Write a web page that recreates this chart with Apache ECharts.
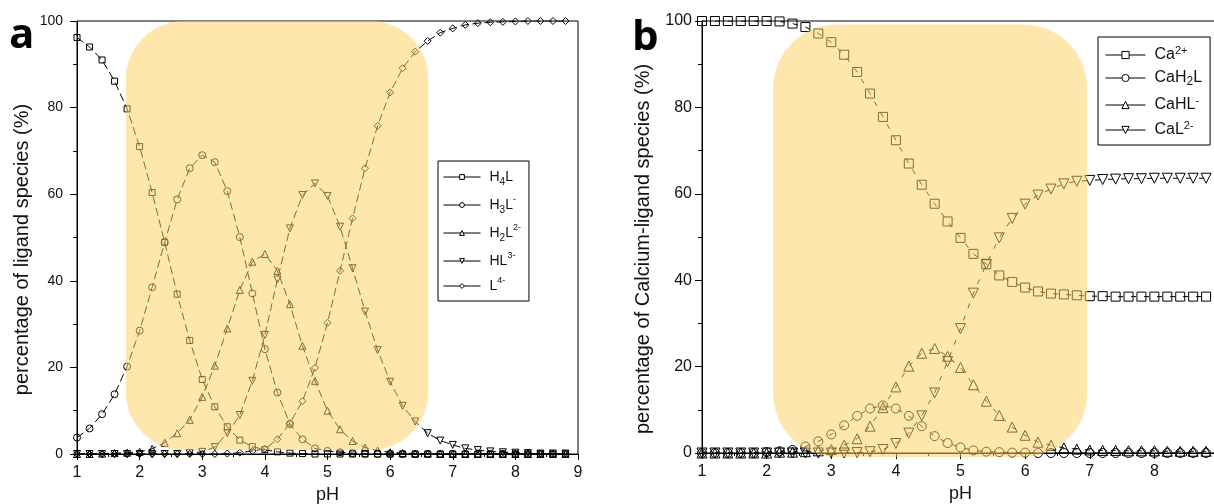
<!DOCTYPE html>
<html>
<head>
<meta charset="utf-8">
<title>Ligand species</title>
<script src="https://cdn.jsdelivr.net/npm/echarts@6/dist/echarts.min.js"></script>
<style>
  html, body { margin: 0; padding: 0; background: #fff; }
  #chart { width: 1214px; height: 504px; }
</style>
</head>
<body>
<div id="chart"></div>
<script>
    // pH grid shared by both panels
    var pH = [1.0, 1.2, 1.4, 1.6, 1.8, 2.0, 2.2, 2.4, 2.6, 2.8,
              3.0, 3.2, 3.4, 3.6, 3.8, 4.0, 4.2, 4.4, 4.6, 4.8,
              5.0, 5.2, 5.4, 5.6, 5.8, 6.0, 6.2, 6.4, 6.6, 6.8,
              7.0, 7.2, 7.4, 7.6, 7.8, 8.0, 8.2, 8.4, 8.6, 8.8];

    // panel a: ligand species (%)
    var namesA = ['H4L', 'H3L-', 'H2L2-', 'HL3-', 'L4-'];
    var h4l = [96.2, 94.0, 91.0, 86.1, 79.7, 71.0, 60.4, 48.9, 36.9, 26.2,
               17.2, 10.9, 6.3, 3.2, 1.7, 1.0, 0.5, 0.2, 0.1, 0,
               0, 0, 0, 0, 0, 0, 0, 0, 0, 0,
               0, 0, 0, 0, 0, 0, 0, 0, 0, 0];
    var h3l = [3.8, 5.9, 9.2, 13.8, 20.2, 28.5, 38.5, 48.9, 58.8, 66.0,
               69.0, 67.4, 60.7, 50.1, 37.1, 24.2, 14.2, 6.9, 3.4, 1.3,
               0.7, 0.4, 0.2, 0.1, 0, 0, 0, 0, 0, 0,
               0, 0, 0, 0, 0, 0, 0, 0, 0, 0];
    var h2l = [0, 0, 0.1, 0.2, 0.3, 0.5, 1.2, 2.6, 4.8, 7.9,
               13.2, 20.4, 29.0, 37.9, 44.4, 46.2, 42.3, 34.6, 25.0, 16.9,
               10.0, 5.7, 3.0, 1.5, 0.8, 0.4, 0.2, 0.1, 0.1, 0,
               0, 0, 0, 0, 0, 0, 0, 0, 0, 0];
    var hl = [0, 0, 0, 0, 0, 0, 0, 0, 0, 0.2,
              0.5, 1.6, 4.8, 9.0, 16.9, 27.5, 40.3, 52.1, 59.8, 62.5,
              59.6, 52.5, 42.9, 32.9, 24.0, 16.7, 11.1, 7.5, 4.8, 3.1,
              2.1, 1.3, 0.9, 0.6, 0.4, 0.3, 0.2, 0.1, 0.1, 0.1];
    var l4 = [0, 0, 0, 0, 0, 0, 0, 0, 0, 0,
              0, 0, 0.1, 0.3, 0.7, 1.2, 3.4, 7.1, 12.2, 19.9,
              30.3, 42.3, 54.4, 66.0, 75.8, 83.5, 89.1, 92.9, 95.4, 97.3,
              98.3, 99.1, 99.5, 99.7, 99.8, 99.9, 100, 100, 100, 100];

    // panel b: calcium-ligand species (%)
    var namesB = ['Ca2+', 'CaH2L', 'CaHL-', 'CaL2-'];
    var ca = [100, 100, 100, 100, 100, 100, 99.9, 99.4, 98.6, 97.1,
              95.1, 92.2, 88.2, 83.2, 77.8, 72.4, 67.0, 62.1, 57.7, 53.6,
              49.8, 46.1, 43.7, 41.1, 39.6, 38.3, 37.4, 36.9, 36.7, 36.5,
              36.3, 36.3, 36.2, 36.2, 36.2, 36.2, 36.2, 36.2, 36.2, 36.2];
    var cah2l = [0, 0, 0, 0, 0, 0.2, 0.4, 0.7, 1.5, 2.7,
                 4.3, 6.4, 8.6, 10.3, 11.0, 10.3, 8.6, 6.2, 3.9, 2.3,
                 1.3, 0.6, 0.3, 0.2, 0.1, 0.1, 0, 0, 0, 0,
                 0, 0, 0, 0, 0, 0, 0, 0, 0, 0];
    var cahl = [0, 0, 0, 0, 0, 0, 0.2, 0.2, 0.3, 0.5,
                0.8, 1.8, 3.3, 6.2, 10.5, 15.3, 20.1, 23.1, 24.2, 22.4,
                19.8, 15.8, 12.0, 8.7, 6.0, 4.1, 2.5, 1.8, 1.2, 0.9,
                0.7, 0.6, 0.6, 0.5, 0.5, 0.5, 0.4, 0.4, 0.4, 0.4];
    var cal = [0, 0, 0, 0, 0, 0, 0, 0, 0, 0,
               0, 0, 0.1, 0.3, 0.8, 2.2, 4.6, 8.6, 13.9, 21.2,
               28.8, 37.0, 43.7, 49.8, 54.3, 57.6, 59.7, 61.1, 62.3, 62.9,
               63.1, 63.3, 63.4, 63.5, 63.5, 63.6, 63.6, 63.6, 63.6, 63.6];

    // shaded regions [xMin, xMax, yMin, yMax] in data units
    var shadeA = [1.78, 6.61, 0.9, 100];
    var shadeB = [2.10, 6.96, -0.9, 99.2];

    var F = '"Liberation Sans", Arial, sans-serif';

    var legendText = {
        'H4L': '{n|H}{b|4}{n|L}',
        'H3L-': '{n|H}{b|3}{n|L}{p|-}',
        'H2L2-': '{n|H}{b|2}{n|L}{p|2-}',
        'HL3-': '{n|HL}{p|3-}',
        'L4-': '{n|L}{p|4-}',
        'Ca2+': '{n|Ca}{p|2+}',
        'CaH2L': '{n|CaH}{b|2}{n|L}',
        'CaHL-': '{n|CaHL}{p|-}',
        'CaL2-': '{n|CaL}{p|2-}'
    };

    var downTri = 'path://M0,0L10,0L5,9Z';
    var upTri = 'path://M5,0L10,9L0,9Z';

    function species(name, values, symbol, size, idx, dash) {
        return {
            name: name,
            type: 'line',
            xAxisIndex: idx,
            yAxisIndex: idx,
            data: values.map(function (v, i) { return [pH[i], v]; }),
            symbol: symbol,
            symbolSize: size,
            itemStyle: { color: 'none', borderColor: '#000', borderWidth: 1 },
            lineStyle: { color: '#000', width: 1, type: dash },
            emphasis: { disabled: true },
            z: 2
        };
    }

    function xAxis(idx) {
        return {
            type: 'value', gridIndex: idx, min: 1, max: 9, interval: 1,
            name: 'pH', nameLocation: 'middle', nameGap: 31,
            nameTextStyle: { fontSize: 18, color: '#111', fontFamily: F },
            axisLine: { lineStyle: { color: '#000', width: 1 } },
            axisTick: { length: 6, lineStyle: { color: '#000' } },
            minorTick: { show: true, splitNumber: 2, length: 3, lineStyle: { color: '#000' } },
            axisLabel: { fontSize: 16, color: '#111', margin: 11, fontFamily: F },
            splitLine: { show: false }
        };
    }

    function yAxis(idx, title, gap, labelSize, margin) {
        return {
            type: 'value', gridIndex: idx, min: 0, max: 100, interval: 20,
            name: title, nameLocation: 'middle', nameGap: gap,
            nameTextStyle: { fontSize: 20, color: '#111', fontFamily: F, padding: [0, 24, 0, 0] },
            axisLine: { lineStyle: { color: '#000', width: 1 } },
            axisTick: { length: 7, lineStyle: { color: '#000' } },
            minorTick: { show: true, splitNumber: 2, length: 4, lineStyle: { color: '#000' } },
            axisLabel: { fontSize: labelSize, color: '#111', margin: margin, fontFamily: F },
            splitLine: { show: false }
        };
    }

    function legend(names, left, top, symH, iconW, fs, gap, padding) {
        return {
            data: names,
            orient: 'vertical',
            left: left,
            top: top,
            itemWidth: iconW,
            itemHeight: symH,
            itemGap: gap,
            padding: padding,
            borderColor: '#000',
            borderWidth: 1,
            backgroundColor: '#fff',
            itemStyle: { color: '#fff', borderColor: '#000', borderWidth: 1 },
            lineStyle: { type: 'solid', color: '#000', width: 1 },
            formatter: function (name) { return legendText[name]; },
            textStyle: {
                color: '#111',
                padding: [0, 0, 0, 4],
                rich: {
                    n: { fontSize: fs, lineHeight: 20, verticalAlign: 'middle', fontFamily: F, color: '#111' },
                    b: { fontSize: fs - 4, lineHeight: fs - 4, verticalAlign: 'bottom', fontFamily: F, color: '#111' },
                    p: { fontSize: fs - 5, lineHeight: fs - 5, verticalAlign: 'top', fontFamily: F, color: '#111' }
                }
            }
        };
    }

    var chart = echarts.init(document.getElementById('chart'));

    var option = {
        animation: false,
        backgroundColor: '#fff',
        grid: [
            { left: 77, top: 21, width: 501, height: 433, show: true, borderColor: '#000', borderWidth: 1,
              outerBoundsMode: 'none' },
            { left: 702, top: 21, width: 517, height: 432, show: true, borderColor: '#000', borderWidth: 1,
              outerBoundsMode: 'none' }
        ],
        xAxis: [xAxis(0), xAxis(1)],
        yAxis: [
            yAxis(0, 'percentage of ligand species (%)', 45, 14, 14),
            yAxis(1, 'percentage of Calcium-ligand species (%)', 49, 16, 10)
        ],
        legend: [
            legend(namesA, 438, 161, 6, 37, 14, 8, [9, 8, 8, 5]),
            legend(namesB, 1098, 37, 9, 40, 16, 7, [8, 8, 7, 7])
        ],
        series: [
            species('H4L', h4l, 'rect', 6, 0, [8, 4]),
            species('H3L-', h3l, 'circle', 7, 0, [8, 4]),
            species('H2L2-', h2l, upTri, 7, 0, [8, 4]),
            species('HL3-', hl, downTri, 7, 0, [8, 4]),
            species('L4-', l4, 'diamond', 7, 0, [8, 4]),
            species('Ca2+', ca, 'rect', 9, 1, [5, 8]),
            species('CaH2L', cah2l, 'circle', 9, 1, [5, 8]),
            species('CaHL-', cahl, upTri, 10, 1, [5, 8]),
            species('CaL2-', cal, downTri, 10, 1, [5, 8])
        ]
    };
    chart.setOption(option);

    // rounded yellow highlight boxes, placed through the axes
    function shadeRect(box, idx, r) {
        var p0 = chart.convertToPixel({ gridIndex: idx }, [box[0], box[3]]);
        var p1 = chart.convertToPixel({ gridIndex: idx }, [box[1], box[2]]);
        return {
            type: 'rect',
            z: 50,
            silent: true,
            shape: { x: p0[0], y: p0[1], width: p1[0] - p0[0], height: p1[1] - p0[1], r: r },
            style: { fill: 'rgba(254, 208, 96, 0.52)' }
        };
    }

    chart.setOption({
        graphic: [
            shadeRect(shadeA, 0, 58),
            shadeRect(shadeB, 1, 64),
            { type: 'text', left: 9, top: 15, z: 60,
              style: { text: 'a', font: 'bold 42px "Open Sans", sans-serif', fill: '#000' } },
            { type: 'text', left: 632, top: 17, z: 60,
              style: { text: 'b', font: 'bold 42px "Open Sans", sans-serif', fill: '#000' } }
        ]
    });
</script>
</body>
</html>
